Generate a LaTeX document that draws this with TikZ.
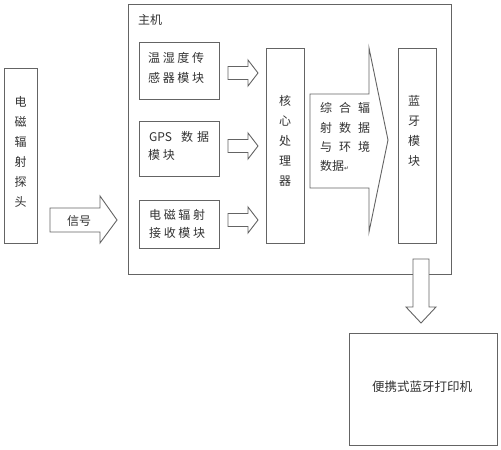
\documentclass[tikz,border=0pt]{standalone}
\usepackage{fontspec}
\newfontfamily\cjk{Noto Sans CJK SC}
\newfontfamily\cjks[LetterSpace=22]{Noto Sans CJK SC}
\newfontfamily\djv{DejaVu Sans}
\definecolor{ln}{RGB}{100,100,100}
\definecolor{tx}{RGB}{50,50,50}
\begin{document}
\begin{tikzpicture}[x=1pt,y=-1pt,
  box/.style={draw=ln, line width=0.9pt, fill=white, inner sep=0pt},
  txt/.style={text=tx, inner sep=0pt, font=\cjk\fontsize{12}{14}\selectfont},
  stxt/.style={text=tx, inner sep=0pt, anchor=west, font=\cjks\fontsize{12}{14}\selectfont},
  vtxt/.style={text=tx, inner sep=0pt, align=center, font=\cjk\fontsize{12}{20}\selectfont},
  barrow/.style={draw=ln, line width=0.9pt, fill=white, line join=miter}]
\useasboundingbox (0,0) rectangle (501,450);
% main frame
\node[box, minimum width=323pt, minimum height=270pt] (host) at (289.5,139) {};
\node[txt] (hostlbl) at (150,20) {主机};
% probe
\node[box, minimum width=33pt, minimum height=175pt] (probe) at (20.5,155.5) {};
\node[vtxt] (probetxt) at (20.5,152) {电\\磁\\辐\\射\\探\\头};
% sub modules
\node[box, minimum width=80pt, minimum height=57pt] (sensor) at (179,70.5) {};
\node[stxt] (sensor1) at (148,58) {温湿度传};
\node[stxt] (sensor2) at (148,78) {感器模块};
\node[box, minimum width=80pt, minimum height=55pt] (gps) at (179,148.5) {};
\node[txt, anchor=west] (gps1) at (149,137) {GPS\hspace{9pt}数\hspace{4pt}据};
\node[stxt] (gps2) at (148,155) {模块};
\node[box, minimum width=80pt, minimum height=48pt] (emr) at (179,224) {};
\node[stxt] (emr1) at (149,215) {电磁辐射};
\node[stxt] (emr2) at (149,233) {接收模块};
% core & bluetooth
\node[box, minimum width=38pt, minimum height=195pt] (core) at (285,145.5) {};
\node[vtxt] (coretxt) at (285,140.5) {核\\心\\处\\理\\器};
\node[box, minimum width=38pt, minimum height=195pt] (bt) at (417,145.5) {};
\node[vtxt] (bttxt) at (414,131) {蓝\\牙\\模\\块};
% printer
\node[box, minimum width=148pt, minimum height=112pt] (printer) at (423,389) {};
\node[txt, font=\cjk\fontsize{12.5}{14}\selectfont] (printertxt) at (422,387) {便携式蓝牙打印机};
% signal arrow
\draw[barrow] (50,208) -- (100,208) -- (100,196) -- (117,220) -- (100,243) -- (100,232) -- (50,232) -- cycle;
\node[txt] (sig) at (79,221) {信号};
% small arrows
\foreach \yc in {73,146,220}{
  \draw[barrow] (228,\yc-6.5) -- (248,\yc-6.5) -- (248,\yc-13) -- (258,\yc) -- (248,\yc+13) -- (248,\yc+6.5) -- (228,\yc+6.5) -- cycle;
}
% big arrow
\draw[barrow] (310,94) -- (369,94) -- (369,48) -- (388,140) -- (369,232) -- (369,188) -- (310,188) -- cycle;
\node[txt, anchor=west] (d1) at (320,108) {综\hspace{7pt}合\hspace{7pt}辐};
\node[txt, anchor=west] (d2) at (320,128) {射\hspace{7pt}数\hspace{7pt}据};
\node[txt, anchor=west] (d3) at (320,147) {与\hspace{7pt}环\hspace{7pt}境};
\node[txt, anchor=west] (d4) at (320,166) {数据{\djv\fontsize{6}{7}\selectfont ↵}};
% down arrow
\draw[barrow] (413,259) -- (429,259) -- (429,307) -- (436,307) -- (421,323) -- (406,307) -- (413,307) -- cycle;
\end{tikzpicture}
\end{document}
